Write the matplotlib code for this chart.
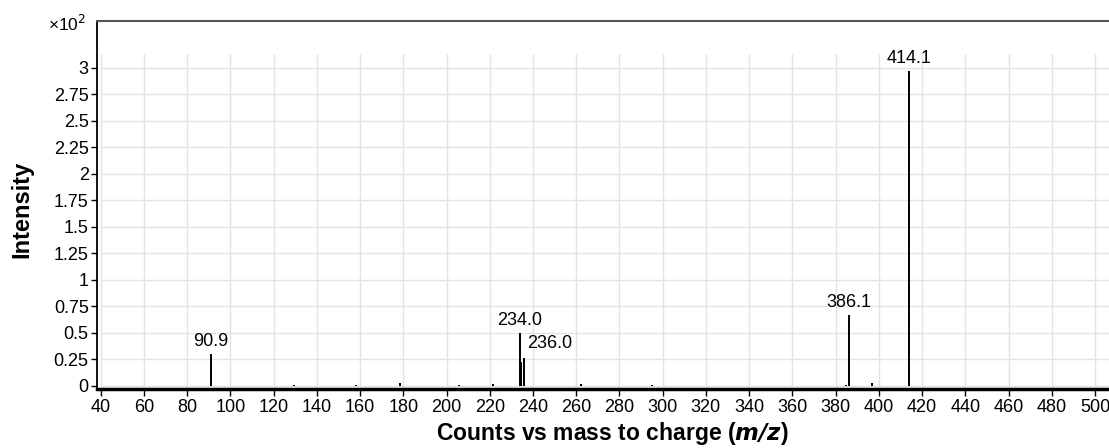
import numpy as np
import matplotlib
matplotlib.use("Agg")
import matplotlib.pyplot as plt

plt.rcParams['font.family'] = ['Liberation Sans', 'DejaVu Sans']

# Peak list (m/z, intensity x10^2)
mz = [90.9, 129.6, 158.1, 178.6, 205.6, 221.3, 234.0, 234.4, 235.8, 262.1, 295.2,
      384.8, 386.1, 397.0, 414.1]
intensity = [0.30, 0.005, 0.01, 0.03, 0.01, 0.015, 0.50, 0.22, 0.26, 0.015, 0.005,
             0.01, 0.665, 0.03, 2.97]
peak_labels = {90.9: '90.9', 234.0: '234.0', 235.8: '236.0', 386.1: '386.1', 414.1: '414.1'}

xticks = np.arange(40, 501, 20)
yticks = np.arange(0, 3.01, 0.25)
ytick_labels = ['0', '0.25', '0.5', '0.75', '1', '1.25', '1.5', '1.75', '2',
                '2.25', '2.5', '2.75', '3']

fig = plt.figure(figsize=(11.09, 4.48), dpi=100)
ax = fig.add_axes([97/1109, 59/448, 1030/1109, 368/448])

xmin, xmax = 38.3, 38.3 + 1030/2.1615
ymin, ymax = -0.031, 3.44
grid_top = 3.13

# Grid drawn by hand so it stops below the top frame
ax.vlines(xticks, ymin, grid_top, color='#e3e3e3', lw=1, zorder=0)
ax.hlines(yticks, 40, xmax, color='#e3e3e3', lw=1, zorder=0)

ax.vlines(mz, 0, intensity, color='black', lw=1.4, zorder=3)

for m, v in zip(mz, intensity):
    if m not in peak_labels:
        continue
    lbl = peak_labels[m]
    if lbl == '236.0':
        ax.text(m + 1.5, v + 0.06, lbl, ha='left', va='bottom', fontsize=13)
    else:
        ax.text(m, v + 0.035, lbl, ha='center', va='bottom', fontsize=13)

ax.set_xlim(xmin, xmax)
ax.set_ylim(ymin, ymax)
ax.set_xticks(xticks)
ax.set_yticks(yticks)
ax.set_yticklabels(ytick_labels)
ax.tick_params(axis='both', labelsize=13, length=4, width=1, color='black')
ax.tick_params(axis='x', length=5, pad=2)
ax.tick_params(axis='y', pad=2)

ax.spines['right'].set_visible(False)
ax.spines['left'].set_linewidth(1.3)
ax.spines['top'].set_color('#555555')
ax.spines['top'].set_linewidth(1.5)
ax.spines['bottom'].set_linewidth(2.5)

ax.set_xlabel('Counts vs mass to charge ($\\bfit{m/z}$)', fontsize=16.5,
              fontweight='bold', labelpad=3)
ax.set_ylabel('Intensity', fontsize=17, fontweight='bold')
ax.yaxis.set_label_coords((33 - 97) / 1030, (385.7 - 206) / 368)

fig.text(86/1109, 1 - 24/448, '\u00d710$^2$', ha='right', va='center', fontsize=12.5)

fig.savefig('out.png', dpi=100)
